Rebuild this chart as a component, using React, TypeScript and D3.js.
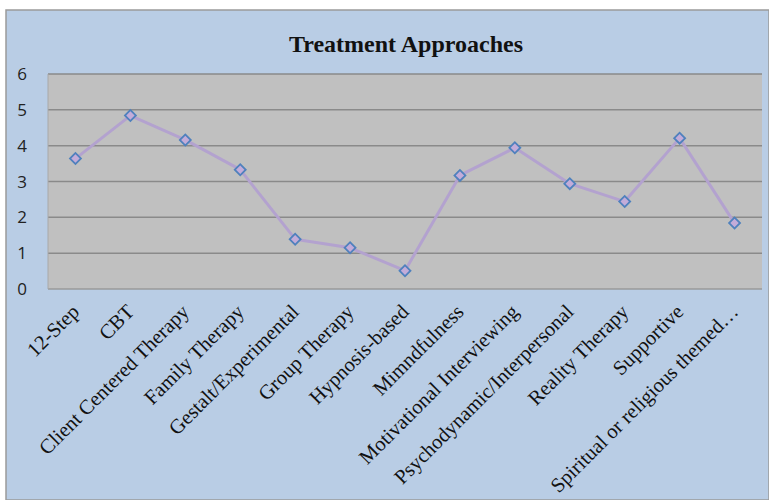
import * as React from "react";
import * as d3 from "d3";

const categories = [
  "12-Step",
  "CBT",
  "Client Centered Therapy",
  "Family Therapy",
  "Gestalt/Experimental",
  "Group Therapy",
  "Hypnosis-based",
  "Mimndfulness",
  "Motivational Interviewing",
  "Psychodynamic/Interpersonal",
  "Reality Therapy",
  "Supportive",
  "Spiritual or religious themed…",
];

const values = [3.64, 4.84, 4.16, 3.33, 1.39, 1.15, 0.51, 3.17, 3.94, 2.94, 2.44, 4.21, 1.84];

const yTicks = [0, 1, 2, 3, 4, 5, 6];

const title = "Treatment Approaches";

export default function App() {
  const ref = React.useRef<SVGSVGElement>(null);

  React.useEffect(() => {
    const svg = d3.select(ref.current);
    svg.selectAll("*").remove();

    const W = 769, H = 500;
    const plot = { left: 48, top: 74, right: 762, bottom: 289 };

    // chart area background
    svg.append("rect")
      .attr("x", 6).attr("y", 10)
      .attr("width", W - 6).attr("height", H - 10)
      .attr("fill", "#b9cde5")
      .attr("stroke", "#9a9a9a")
      .attr("stroke-width", 1.5);

    const x = d3.scaleBand<string>()
      .domain(categories)
      .range([plot.left, plot.right]);

    const y = d3.scaleLinear()
      .domain([0, 6])
      .range([plot.bottom, plot.top]);

    svg.append("rect")
      .attr("x", plot.left).attr("y", plot.top)
      .attr("width", plot.right - plot.left)
      .attr("height", plot.bottom - plot.top)
      .attr("fill", "#c0c0c0");

    // gridlines
    svg.append("g")
      .selectAll("line")
      .data(yTicks)
      .enter().append("line")
      .attr("x1", plot.left).attr("x2", plot.right)
      .attr("y1", (d) => y(d)).attr("y2", (d) => y(d))
      .attr("stroke", (d) => d === 0 ? "#9a9a9a" : "#8a8a8a")
      .attr("stroke-width", 1.5);

    svg.append("line")
      .attr("x1", plot.left).attr("x2", plot.left)
      .attr("y1", plot.top).attr("y2", plot.bottom)
      .attr("stroke", "#a8a8a8");

    // y labels
    svg.append("g")
      .selectAll("text")
      .data(yTicks)
      .enter().append("text")
      .attr("x", 22)
      .attr("y", (d) => y(d))
      .attr("dy", "0.36em")
      .attr("text-anchor", "middle")
      .attr("font-family", "'Open Sans', sans-serif")
      .attr("font-size", 17)
      .attr("fill", "#222")
      .text((d) => d);

    // x labels, rotated
    svg.append("g")
      .selectAll("text")
      .data(categories)
      .enter().append("text")
      .attr("transform", (d) => {
        const cx = (x(d) as number) + x.bandwidth() / 2;
        return "translate(" + (cx + 5) + "," + 313 + ") rotate(-45)";
      })
      .attr("text-anchor", "end")
      .attr("font-family", "'Liberation Serif', 'Times New Roman', serif")
      .attr("font-size", 20.5)
      .attr("fill", "#111")
      .text((d) => d);

    const line = d3.line<number>()
      .x((d, i) => (x(categories[i]) as number) + x.bandwidth() / 2)
      .y((d) => y(d));

    svg.append("path")
      .datum(values)
      .attr("d", line)
      .attr("fill", "none")
      .attr("stroke", "#b3a2cf")
      .attr("stroke-width", 3)
      .attr("stroke-linejoin", "round");

    svg.append("g")
      .selectAll("path")
      .data(values)
      .enter().append("path")
      .attr("transform", (d, i) =>
        "translate(" + ((x(categories[i]) as number) + x.bandwidth() / 2) + "," + y(d) + ") rotate(45)")
      .attr("d", d3.symbol().type(d3.symbolSquare).size(60)() as string)
      .attr("fill", "#c3acd9")
      .attr("stroke", "#4f81bd")
      .attr("stroke-width", 1.8);

    svg.append("text")
      .attr("x", 406).attr("y", 52)
      .attr("text-anchor", "middle")
      .attr("font-family", "'Liberation Serif', 'Times New Roman', serif")
      .attr("font-weight", "bold")
      .attr("font-size", 24)
      .attr("fill", "#111")
      .text(title);
  }, []);

  return (
    <div style={{ position: "fixed", left: 0, top: 0 }}>
      <svg ref={ref} width={769} height={500} style={{ display: "block", background: "#fff" }}></svg>
    </div>
  );
}
